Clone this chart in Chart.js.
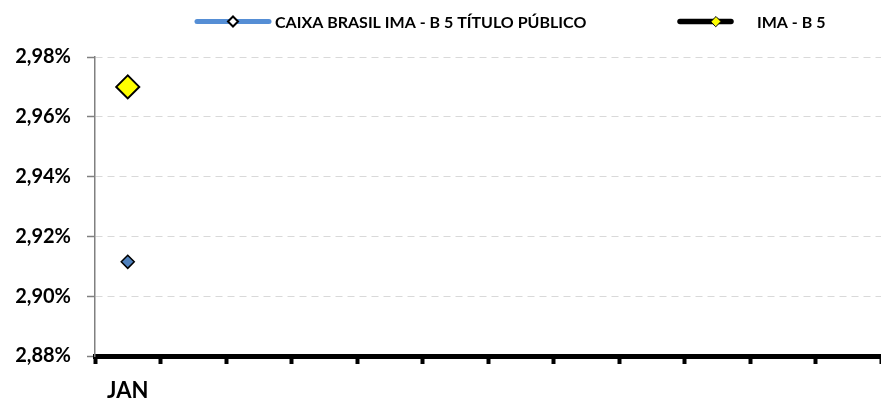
<!DOCTYPE html>
<html>
<head>
<meta charset="utf-8">
<script src="https://cdn.jsdelivr.net/npm/chart.js@4.4.1/dist/chart.umd.min.js"></script>
<style>
  html, body { margin: 0; padding: 0; background: #fff; }
  #wrap { width: 881px; height: 400px; }
</style>
</head>
<body>
<div id="wrap"><canvas id="graph" width="881" height="400"></canvas></div>
<script>
var months = ['JAN', '', '', '', '', '', '', '', '', '', '', ''];
var caixaValues = [2.9115];
var imaValues = [2.97];
var yTicks = [2.88, 2.90, 2.92, 2.94, 2.96, 2.98];

var FONT = 'Lato, "Open Sans", sans-serif';

function diamond(ctx, x, y, r, fill, stroke, lw) {
    ctx.beginPath();
    ctx.moveTo(x - r, y);
    ctx.lineTo(x, y - r);
    ctx.lineTo(x + r, y);
    ctx.lineTo(x, y + r);
    ctx.closePath();
    ctx.fillStyle = fill;
    ctx.fill();
    if (lw) {
        ctx.lineWidth = lw;
        ctx.strokeStyle = stroke;
        ctx.stroke();
    }
}

// legend drawn by hand: line + marker + label, like the spreadsheet one
var legendPlugin = {
    id: 'lineLegend',
    afterDraw: function(chart) {
        var ctx = chart.ctx;
        var items = [
            { x1: 197, x2: 269, mx: 233, tx: 275, lw: 5, mr: 5, mfill: '#ffffff', mlw: 2 },
            { x1: 680, x2: 731, mx: 716, tx: 757, lw: 5.5, mr: 5, mfill: '#ffff00', mlw: 1 }
        ];
        var y = 21.5;
        ctx.save();
        chart.data.datasets.forEach(function(ds, i) {
            var it = items[i];
            ctx.beginPath();
            ctx.lineCap = 'round';
            ctx.lineWidth = it.lw;
            ctx.strokeStyle = ds.borderColor;
            ctx.moveTo(it.x1, y);
            ctx.lineTo(it.x2, y);
            ctx.stroke();
            diamond(ctx, it.mx, y, it.mr, it.mfill, '#000000', it.mlw);
            ctx.fillStyle = '#000000';
            ctx.font = 'bold 16px ' + FONT;
            ctx.textBaseline = 'middle';
            ctx.textAlign = 'left';
            ctx.fillText(ds.label, it.tx, y + 1);
        });
        ctx.restore();
    }
};

var ctx = document.getElementById('graph').getContext('2d');
var chart = new Chart(ctx, {
    type: 'line',
    data: {
        labels: months,
        datasets: [{
            label: 'CAIXA BRASIL IMA - B 5 TÍTULO PÚBLICO',
            data: caixaValues,
            borderColor: '#558ed5',
            backgroundColor: '#4f81bd',
            showLine: false,
            pointStyle: 'rectRot',
            pointRadius: 6.5,
            pointBackgroundColor: '#4f81bd',
            pointBorderColor: '#000000',
            pointBorderWidth: 1.5
        }, {
            label: 'IMA - B 5',
            data: imaValues,
            borderColor: '#000000',
            backgroundColor: '#ffff00',
            showLine: false,
            pointStyle: 'rectRot',
            pointRadius: 11.5,
            pointBackgroundColor: '#ffff00',
            pointBorderColor: '#000000',
            pointBorderWidth: 2
        }]
    },
    options: {
        responsive: false,
        animation: false,
        layout: { autoPadding: false, padding: { top: 57, right: 0, bottom: 0, left: 0 } },
        plugins: {
            legend: { display: false },
            tooltip: { enabled: false }
        },
        scales: {
            x: {
                offset: true,
                afterFit: function(scale) { scale.height = 44; },
                grid: {
                    offset: true,
                    drawOnChartArea: false,
                    tickLength: 8,
                    tickColor: '#000000',
                    tickWidth: 4
                },
                border: { color: '#000000', width: 5 },
                ticks: {
                    autoSkip: false,
                    maxRotation: 0,
                    padding: 14,
                    color: '#000000',
                    font: { family: FONT, size: 22, weight: 'bold' }
                }
            },
            y: {
                min: 2.88,
                max: 2.98,
                afterBuildTicks: function(scale) {
                    scale.ticks = yTicks.map(function(v) { return { value: v }; });
                },
                afterFit: function(scale) { scale.width = 95; },
                grid: {
                    color: '#d9d9d9',
                    lineWidth: 1,
                    tickColor: '#808080',
                    tickLength: 8,
                    tickWidth: 1.5
                },
                border: { color: '#808080', width: 1.5, dash: [7, 5] },
                ticks: {
                    padding: 16,
                    color: '#000000',
                    font: { family: FONT, size: 20, weight: 'bold' },
                    callback: function(v) { return v.toFixed(2).replace('.', ',') + '%'; }
                }
            }
        }
    },
    plugins: [legendPlugin]
});
</script>
</body>
</html>
